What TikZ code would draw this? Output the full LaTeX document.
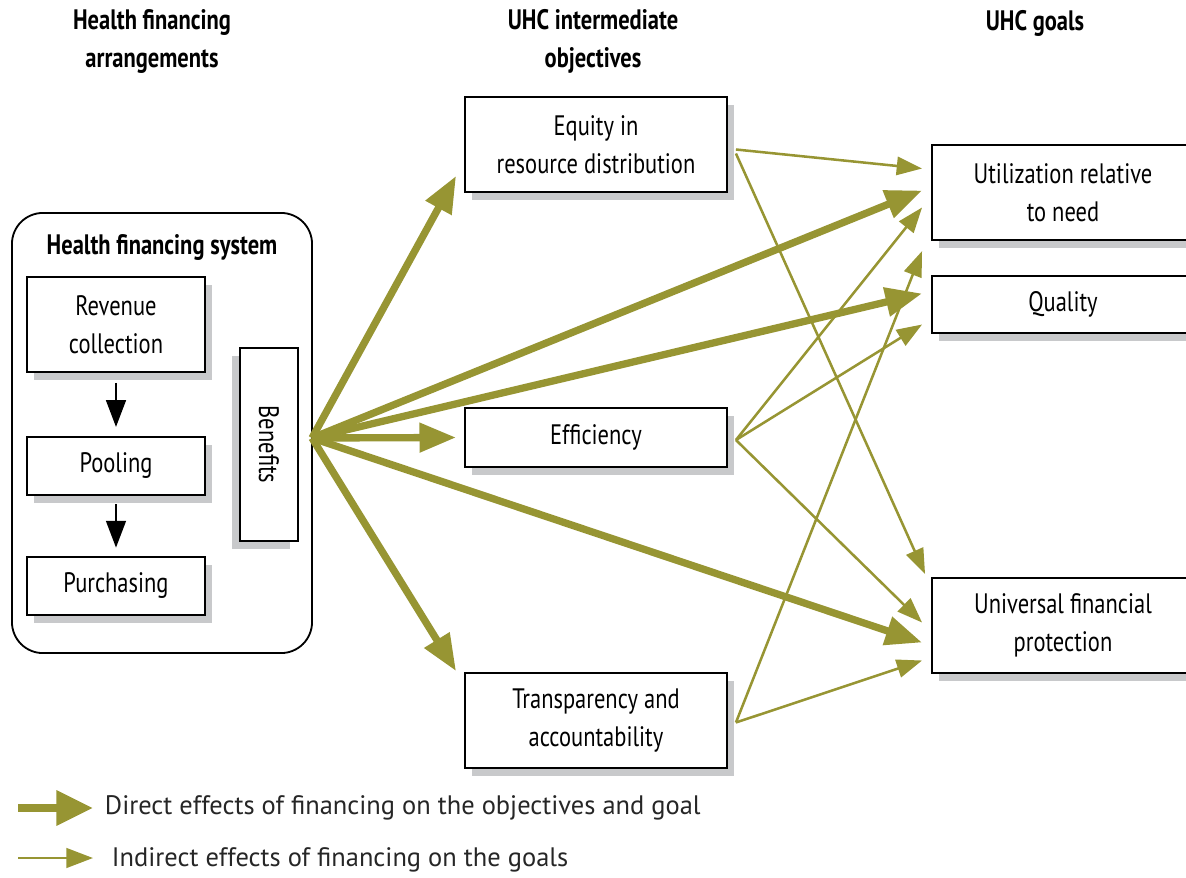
\documentclass[tikz,border=0pt]{standalone}
\usepackage{fontspec}
\setmainfont{PT Sans}[FakeStretch=0.8]
\newfontfamily\legendfont{PT Sans}[FakeStretch=0.99]
\usetikzlibrary{arrows.meta,shadows,calc}

\definecolor{olivearrow}{RGB}{151,149,51}
\definecolor{shadowgray}{RGB}{200,201,203}

\tikzset{
  plainbox/.style={draw, line width=1.3pt, fill=white, align=center, inner sep=0pt},
  box/.style={plainbox, drop shadow={shadow xshift=5pt, shadow yshift=-5.5pt, fill=shadowgray, opacity=1}},
  boxleft/.style={plainbox, drop shadow={shadow xshift=-5.5pt, shadow yshift=-5.5pt, fill=shadowgray, opacity=1}},
  head/.style={align=center, font=\fontsize{20}{27}\selectfont\bfseries},
  legend/.style={anchor=west, text=black!85, font=\fontsize{19}{24}\selectfont\legendfont},
  flow/.style={line width=1.6pt, -{Triangle[length=19pt,width=14pt]}},
  direct/.style={olivearrow, line width=5.2pt, -{Triangle[length=26pt,width=20pt]}},
  indirect/.style={olivearrow, line width=1.8pt, -{Triangle[length=18pt,width=13pt]}}
}

\begin{document}
\begin{tikzpicture}[x=0.025cm, y=-0.025cm, font=\fontsize{20}{27}\selectfont]
\useasboundingbox (0,0) rectangle (1186,877);
\clip (0,0) rectangle (1186,877);

% column headings
\node[head] (harr) at (152,41) {Health financing\\arrangements};
\node[head] (hobj) at (593,41) {UHC intermediate\\objectives};
\node[head] (hgoal) at (1035,23) {UHC goals};

% health financing system
\node[draw, line width=1.3pt, rounded corners=22pt, minimum width=7.5cm, minimum height=11cm] (hfs) at (162,433) {};
\node[head] (hfslabel) at (162,247) {Health financing system};

\node[box, minimum width=4.45cm, minimum height=2.375cm] (rev) at (116,324.5) {Revenue\\collection};
\node[box, minimum width=4.45cm, minimum height=1.45cm] (pool) at (116,466) {Pooling};
\node[box, minimum width=4.45cm, minimum height=1.45cm] (purch) at (116,586) {Purchasing};
\node[boxleft, minimum width=1.45cm, minimum height=4.825cm] (ben) at (269,444.5) {\rotatebox{-90}{Benefits}};

\draw[flow, shorten <=7pt, shorten >=6.5pt] (rev) -- (pool);
\draw[flow, shorten <=6pt, shorten >=6pt] (pool) -- (purch);

% intermediate objectives
\node[box, minimum width=6.55cm, minimum height=2.375cm] (equity) at (596,144.5) {Equity in\\resource distribution};
\node[box, minimum width=6.55cm, minimum height=1.475cm] (eff) at (596,437.5) {Efficiency};
\node[box, minimum width=6.55cm, minimum height=2.375cm] (transp) at (596,720.5) {Transparency and\\accountability};

% goals
\node[box, minimum width=6.55cm, minimum height=2.375cm] (util) at (1063,192.5) {Utilization relative\\to need};
\node[box, minimum width=6.55cm, minimum height=1.425cm] (qual) at (1063,304.5) {Quality};
\node[box, minimum width=6.55cm, minimum height=2.375cm] (univ) at (1063,625.5) {Universal financial\\protection};

% direct effects
\coordinate (hub) at (312,438);
\draw[direct] (hub) -- ($(equity.south west)+(-8,-17)$);
\draw[direct] (hub) -- ($(util.west)+(-9,-2)$);
\draw[direct] (hub) -- ($(qual.west)+(-9,-11)$);
\draw[direct] (hub) -- ($(eff.west)+(-8,0)$);
\draw[direct] (hub) -- ($(univ.west)+(-9,17)$);
\draw[direct] (hub) -- ($(transp.north west)+(-8,-1)$);

% indirect effects
\draw[indirect] ($(equity.east)+(8,5)$) -- ($(util.west)+(-9,-24)$);
\draw[indirect] ($(equity.east)+(8,9)$) -- ($(univ.north west)+(-6,-3)$);
\draw[indirect] ($(eff.east)+(8,2.5)$) -- ($(util.west)+(-9,15)$);
\draw[indirect] ($(eff.east)+(8,2.5)$) -- ($(qual.west)+(-9,20)$);
\draw[indirect] ($(eff.east)+(8,2.5)$) -- ($(univ.west)+(-9,-3)$);
\draw[indirect] ($(transp.east)+(8,2)$) -- ($(qual.north west)+(-9,-24)$);
\draw[indirect] ($(transp.east)+(8,2)$) -- ($(univ.west)+(-9,35)$);

% legend
\coordinate (ld0) at (18,808);
\coordinate (ld1) at (93,808);
\coordinate (li0) at (18,858);
\coordinate (li1) at (93,858);
\draw[direct, -{Triangle[length=26pt,width=24pt]}] (ld0) -- (ld1);
\draw[indirect, -{Triangle[length=19pt,width=14pt]}] (li0) -- (li1);
\node[legend] (ldtext) at (100,808) {Direct effects of financing on the objectives and goal};
\node[legend] (litext) at (107,860) {Indirect effects of financing on the goals};
\end{tikzpicture}
\end{document}
